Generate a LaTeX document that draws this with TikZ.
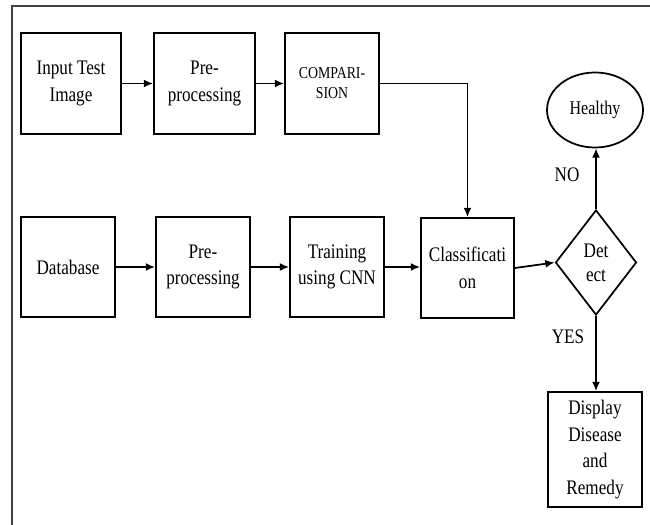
\documentclass[tikz,border=0pt]{standalone}
\usepackage{fontspec}
\setmainfont{Liberation Serif}[FakeStretch=0.83]
\usetikzlibrary{shapes.geometric,arrows.meta}

\tikzset{
  box/.style={draw, line width=1.3pt, inner sep=0pt, align=center,
    font=\fontsize{15.5}{20}\selectfont},
  flow/.style={line width=1.3pt, -{Latex[length=7pt,width=6pt]}},
  tag/.style={inner sep=0pt, font=\fontsize{15.5}{20}\selectfont},
  frame/.style={draw=black!75, line width=1.5pt}
}

\begin{document}
\begin{tikzpicture}[x=0.75pt, y=-0.75pt]
  \useasboundingbox (0,0) rectangle (650,525);

  % outer frame (top and left sides only)
  \coordinate (fTL) at (12,5.5);
  \coordinate (fTR) at (650,5.5);
  \coordinate (fBL) at (12,525);
  \draw[frame] (fTR) -- (fTL) -- (fBL);

  % test image branch
  \node[box, minimum width=75pt, minimum height=75.75pt] (inp) at (71,83.5) {Input Test\\Image};
  \node[box, minimum width=75.75pt, minimum height=75.75pt] (pre1) at (204.5,83.5) {Pre-\\processing};
  \node[box, minimum width=70.5pt, minimum height=75.75pt,
        font=\fontsize{12.5}{15}\selectfont] (cmp) at (332,83.5) {COMPARI-\\SION};

  % training branch
  \node[box, minimum width=70.5pt, minimum height=75pt] (db) at (68,267) {Database};
  \node[box, minimum width=70.5pt, minimum height=75pt] (pre2) at (203,267) {Pre-\\processing};
  \node[box, minimum width=70.5pt, minimum height=75pt] (trn) at (337,267) {Training\\using CNN};
  \node[box, minimum width=69.75pt, minimum height=75pt] (cls) at (467.5,268) {Classificati\\on};

  % decision and outcomes
  \node[box, diamond, aspect=0.77, minimum width=60.75pt, minimum height=78.75pt,
        font=\fontsize{15.5}{18}\selectfont] (det) at (596,262.5) {Det\\ect};
  \node[box, ellipse, minimum width=72pt, minimum height=56.25pt,
        font=\fontsize{14.5}{18}\selectfont] (hlt) at (595,110) {Healthy};
  \node[box, minimum width=70.5pt, minimum height=86.25pt] (disp) at (595,449.5)
        {Display\\Disease\\and\\Remedy};

  % branch labels
  \node[tag] (no) at (567,175) {NO};
  \node[tag] (yes) at (568,337) {YES};

  % connectors
  \draw[flow] (inp) -- (pre1);
  \draw[flow] (pre1) -- (cmp);
  \draw[flow] (cmp.east) -| (cls.north);
  \draw[flow] (db) -- (pre2);
  \draw[flow] (pre2) -- (trn);
  \draw[flow] (trn.east) -- (cls.west |- trn.east);
  \draw[flow] (cls.east) -- (det.west);
  \draw[flow] (det.north) -- (det.north |- hlt.south);
  \draw[flow] (det.south) -- (det.south |- disp.north);
\end{tikzpicture}
\end{document}
